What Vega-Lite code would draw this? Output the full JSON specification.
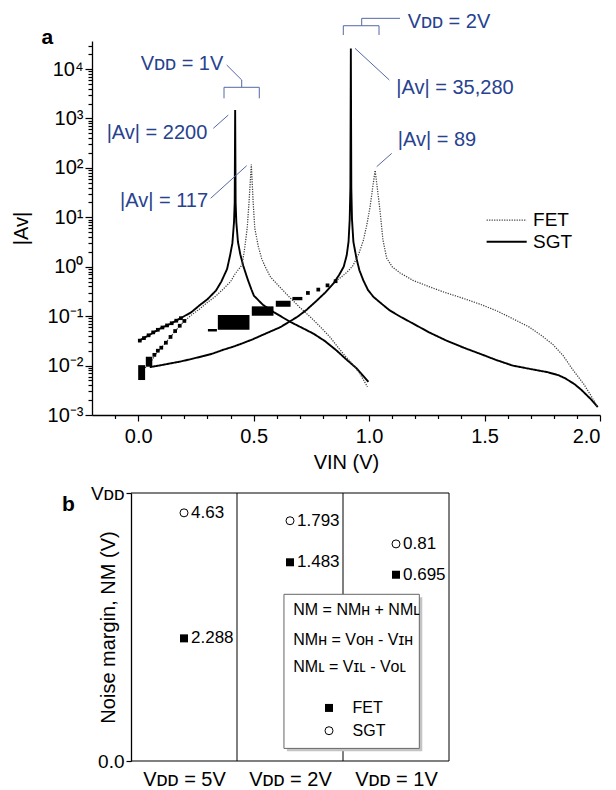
{
  "$schema": "https://vega.github.io/schema/vega-lite/v6.json",
  "padding": {"left": 11, "top": 12, "right": 2, "bottom": 0},
  "bounds": "flush",
  "spacing": 78,
  "config": {
    "view": {"stroke": null},
    "font": "Liberation Sans",
    "axis": {"labelFont": "Liberation Sans", "titleFont": "Liberation Sans", "labelColor": "#000", "titleColor": "#000", "domainColor": "#000", "tickColor": "#000", "grid": false, "titleFontWeight": "normal", "domainWidth": 1.3, "tickWidth": 1.2}
  },
  "datasets": {
    "curves": [
      {"c":"SGT1","t":"SGT","x":0.005,"y":0.032},{"c":"SGT1","t":"SGT","x":0.05,"y":0.042},{"c":"SGT1","t":"SGT","x":0.094,"y":0.056},{"c":"SGT1","t":"SGT","x":0.14,"y":0.07},{"c":"SGT1","t":"SGT","x":0.18,"y":0.089},{"c":"SGT1","t":"SGT","x":0.23,"y":0.12},{"c":"SGT1","t":"SGT","x":0.266,"y":0.166},{"c":"SGT1","t":"SGT","x":0.3,"y":0.22},{"c":"SGT1","t":"SGT","x":0.337,"y":0.33},{"c":"SGT1","t":"SGT","x":0.36,"y":0.5},{"c":"SGT1","t":"SGT","x":0.385,"y":0.9},{"c":"SGT1","t":"SGT","x":0.398,"y":1.7},{"c":"SGT1","t":"SGT","x":0.408,"y":3},{"c":"SGT1","t":"SGT","x":0.415,"y":8},{"c":"SGT1","t":"SGT","x":0.418,"y":20},{"c":"SGT1","t":"SGT","x":0.42,"y":1480},{"c":"SGT1","t":"SGT","x":0.422,"y":20},{"c":"SGT1","t":"SGT","x":0.425,"y":8},{"c":"SGT1","t":"SGT","x":0.432,"y":3.2},{"c":"SGT1","t":"SGT","x":0.442,"y":1.8},{"c":"SGT1","t":"SGT","x":0.455,"y":1.05},{"c":"SGT1","t":"SGT","x":0.474,"y":0.56},{"c":"SGT1","t":"SGT","x":0.49,"y":0.35},{"c":"SGT1","t":"SGT","x":0.501,"y":0.26},{"c":"SGT1","t":"SGT","x":0.54,"y":0.17},{"c":"SGT1","t":"SGT","x":0.588,"y":0.12},{"c":"SGT1","t":"SGT","x":0.66,"y":0.076},{"c":"SGT1","t":"SGT","x":0.71,"y":0.058},{"c":"SGT1","t":"SGT","x":0.76,"y":0.044},{"c":"SGT1","t":"SGT","x":0.81,"y":0.031},{"c":"SGT1","t":"SGT","x":0.86,"y":0.02},{"c":"SGT1","t":"SGT","x":0.9,"y":0.0135},{"c":"SGT1","t":"SGT","x":0.947,"y":0.0087},{"c":"SGT1","t":"SGT","x":0.997,"y":0.0047},
      {"c":"FET1","t":"FET","x":0.01,"y":0.0068},{"c":"FET1","t":"FET","x":0.03,"y":0.009},{"c":"FET1","t":"FET","x":0.055,"y":0.012},{"c":"FET1","t":"FET","x":0.08,"y":0.018},{"c":"FET1","t":"FET","x":0.11,"y":0.026},{"c":"FET1","t":"FET","x":0.144,"y":0.04},{"c":"FET1","t":"FET","x":0.17,"y":0.056},{"c":"FET1","t":"FET","x":0.194,"y":0.075},{"c":"FET1","t":"FET","x":0.23,"y":0.105},{"c":"FET1","t":"FET","x":0.266,"y":0.14},{"c":"FET1","t":"FET","x":0.3,"y":0.19},{"c":"FET1","t":"FET","x":0.338,"y":0.26},{"c":"FET1","t":"FET","x":0.37,"y":0.36},{"c":"FET1","t":"FET","x":0.4,"y":0.5},{"c":"FET1","t":"FET","x":0.42,"y":0.72},{"c":"FET1","t":"FET","x":0.45,"y":1.1},{"c":"FET1","t":"FET","x":0.462,"y":2.5},{"c":"FET1","t":"FET","x":0.472,"y":6},{"c":"FET1","t":"FET","x":0.48,"y":20},{"c":"FET1","t":"FET","x":0.49,"y":117},{"c":"FET1","t":"FET","x":0.498,"y":20},{"c":"FET1","t":"FET","x":0.505,"y":6},{"c":"FET1","t":"FET","x":0.52,"y":2.6},{"c":"FET1","t":"FET","x":0.535,"y":1.45},{"c":"FET1","t":"FET","x":0.55,"y":1.0},{"c":"FET1","t":"FET","x":0.573,"y":0.62},{"c":"FET1","t":"FET","x":0.62,"y":0.36},{"c":"FET1","t":"FET","x":0.66,"y":0.23},{"c":"FET1","t":"FET","x":0.7,"y":0.15},{"c":"FET1","t":"FET","x":0.746,"y":0.096},{"c":"FET1","t":"FET","x":0.79,"y":0.06},{"c":"FET1","t":"FET","x":0.83,"y":0.038},{"c":"FET1","t":"FET","x":0.87,"y":0.022},{"c":"FET1","t":"FET","x":0.9,"y":0.015},{"c":"FET1","t":"FET","x":0.93,"y":0.0105},{"c":"FET1","t":"FET","x":0.96,"y":0.0069},{"c":"FET1","t":"FET","x":0.993,"y":0.0037},
      {"c":"SGT2","t":"SGT","x":0.05,"y":0.0093},{"c":"SGT2","t":"SGT","x":0.1,"y":0.0102},{"c":"SGT2","t":"SGT","x":0.136,"y":0.011},{"c":"SGT2","t":"SGT","x":0.18,"y":0.012},{"c":"SGT2","t":"SGT","x":0.237,"y":0.0138},{"c":"SGT2","t":"SGT","x":0.28,"y":0.0155},{"c":"SGT2","t":"SGT","x":0.323,"y":0.0175},{"c":"SGT2","t":"SGT","x":0.37,"y":0.021},{"c":"SGT2","t":"SGT","x":0.41,"y":0.024},{"c":"SGT2","t":"SGT","x":0.45,"y":0.028},{"c":"SGT2","t":"SGT","x":0.496,"y":0.034},{"c":"SGT2","t":"SGT","x":0.55,"y":0.044},{"c":"SGT2","t":"SGT","x":0.616,"y":0.06},{"c":"SGT2","t":"SGT","x":0.65,"y":0.075},{"c":"SGT2","t":"SGT","x":0.688,"y":0.096},{"c":"SGT2","t":"SGT","x":0.73,"y":0.135},{"c":"SGT2","t":"SGT","x":0.775,"y":0.21},{"c":"SGT2","t":"SGT","x":0.81,"y":0.3},{"c":"SGT2","t":"SGT","x":0.846,"y":0.46},{"c":"SGT2","t":"SGT","x":0.87,"y":0.68},{"c":"SGT2","t":"SGT","x":0.89,"y":1.0},{"c":"SGT2","t":"SGT","x":0.903,"y":1.7},{"c":"SGT2","t":"SGT","x":0.911,"y":3.2},{"c":"SGT2","t":"SGT","x":0.916,"y":9},{"c":"SGT2","t":"SGT","x":0.919,"y":40},{"c":"SGT2","t":"SGT","x":0.921,"y":26000},{"c":"SGT2","t":"SGT","x":0.923,"y":40},{"c":"SGT2","t":"SGT","x":0.926,"y":9},{"c":"SGT2","t":"SGT","x":0.932,"y":3.2},{"c":"SGT2","t":"SGT","x":0.945,"y":1.5},{"c":"SGT2","t":"SGT","x":0.958,"y":0.85},{"c":"SGT2","t":"SGT","x":0.975,"y":0.53},{"c":"SGT2","t":"SGT","x":0.995,"y":0.34},{"c":"SGT2","t":"SGT","x":1.019,"y":0.245},{"c":"SGT2","t":"SGT","x":1.047,"y":0.19},{"c":"SGT2","t":"SGT","x":1.09,"y":0.13},{"c":"SGT2","t":"SGT","x":1.14,"y":0.095},{"c":"SGT2","t":"SGT","x":1.19,"y":0.071},{"c":"SGT2","t":"SGT","x":1.26,"y":0.047},{"c":"SGT2","t":"SGT","x":1.335,"y":0.032},{"c":"SGT2","t":"SGT","x":1.41,"y":0.023},{"c":"SGT2","t":"SGT","x":1.478,"y":0.0175},{"c":"SGT2","t":"SGT","x":1.55,"y":0.013},{"c":"SGT2","t":"SGT","x":1.622,"y":0.01},{"c":"SGT2","t":"SGT","x":1.7,"y":0.0085},{"c":"SGT2","t":"SGT","x":1.77,"y":0.0074},{"c":"SGT2","t":"SGT","x":1.82,"y":0.0064},{"c":"SGT2","t":"SGT","x":1.85,"y":0.0055},{"c":"SGT2","t":"SGT","x":1.89,"y":0.0042},{"c":"SGT2","t":"SGT","x":1.92,"y":0.0032},{"c":"SGT2","t":"SGT","x":1.96,"y":0.0021},{"c":"SGT2","t":"SGT","x":1.99,"y":0.00145},
      {"c":"FET2","t":"FET","x":0.855,"y":0.51},{"c":"FET2","t":"FET","x":0.88,"y":0.62},{"c":"FET2","t":"FET","x":0.905,"y":0.78},{"c":"FET2","t":"FET","x":0.93,"y":1.05},{"c":"FET2","t":"FET","x":0.955,"y":1.8},{"c":"FET2","t":"FET","x":0.975,"y":3.4},{"c":"FET2","t":"FET","x":0.99,"y":7},{"c":"FET2","t":"FET","x":1.004,"y":16},{"c":"FET2","t":"FET","x":1.015,"y":38},{"c":"FET2","t":"FET","x":1.026,"y":89},{"c":"FET2","t":"FET","x":1.036,"y":38},{"c":"FET2","t":"FET","x":1.047,"y":14},{"c":"FET2","t":"FET","x":1.06,"y":3.5},{"c":"FET2","t":"FET","x":1.076,"y":1.5},{"c":"FET2","t":"FET","x":1.1,"y":1.0},{"c":"FET2","t":"FET","x":1.134,"y":0.75},{"c":"FET2","t":"FET","x":1.19,"y":0.53},{"c":"FET2","t":"FET","x":1.263,"y":0.39},{"c":"FET2","t":"FET","x":1.33,"y":0.3},{"c":"FET2","t":"FET","x":1.407,"y":0.23},{"c":"FET2","t":"FET","x":1.48,"y":0.175},{"c":"FET2","t":"FET","x":1.55,"y":0.13},{"c":"FET2","t":"FET","x":1.62,"y":0.09},{"c":"FET2","t":"FET","x":1.694,"y":0.06},{"c":"FET2","t":"FET","x":1.745,"y":0.041},{"c":"FET2","t":"FET","x":1.795,"y":0.027},{"c":"FET2","t":"FET","x":1.84,"y":0.016},{"c":"FET2","t":"FET","x":1.88,"y":0.0085},{"c":"FET2","t":"FET","x":1.93,"y":0.0042},{"c":"FET2","t":"FET","x":1.96,"y":0.0025},{"c":"FET2","t":"FET","x":1.99,"y":0.00145},
      {"c":"legFET","t":"FET","x":1.509,"y":8.83},{"c":"legFET","t":"FET","x":1.6826,"y":8.83},
      {"c":"legSGT","t":"SGT","x":1.509,"y":3.21},{"c":"legSGT","t":"SGT","x":1.6826,"y":3.21}
    ],
    "beads": [
      {"x":0.007,"y":0.032},{"x":0.025,"y":0.036},{"x":0.045,"y":0.041},{"x":0.065,"y":0.047},{"x":0.085,"y":0.053},{"x":0.105,"y":0.059},{"x":0.125,"y":0.065},{"x":0.145,"y":0.072},{"x":0.165,"y":0.081},{"x":0.185,"y":0.091},
      {"x":0.07,"y":0.0165},{"x":0.085,"y":0.02},{"x":0.1,"y":0.023},{"x":0.12,"y":0.029},{"x":0.14,"y":0.038},{"x":0.16,"y":0.05},{"x":0.18,"y":0.064},{"x":0.2,"y":0.08},
      {"x":0.735,"y":0.295},{"x":0.78,"y":0.345},{"x":0.82,"y":0.42},{"x":0.855,"y":0.51}
    ],
    "blocks": [
      {"x":0.0,"x2":0.03,"y":0.0051,"y2":0.0102},
      {"x":0.033,"x2":0.061,"y":0.0095,"y2":0.0151},
      {"x":0.302,"x2":0.341,"y":0.049,"y2":0.055},
      {"x":0.345,"x2":0.482,"y":0.053,"y2":0.105},
      {"x":0.492,"x2":0.586,"y":0.102,"y2":0.158},
      {"x":0.596,"x2":0.66,"y":0.155,"y2":0.205},
      {"x":0.668,"x2":0.711,"y":0.21,"y2":0.245}
    ],
    "ann": [
      {"g":1,"o":1,"x":0.3834,"y":12080},{"g":1,"o":2,"x":0.4483,"y":6012},{"g":1,"o":3,"x":0.4483,"y":4276},
      {"g":2,"o":1,"x":0.3717,"y":2559},{"g":2,"o":2,"x":0.3717,"y":4276},{"g":2,"o":3,"x":0.5245,"y":4276},{"g":2,"o":4,"x":0.5245,"y":2559},
      {"g":3,"o":1,"x":0.3253,"y":632},{"g":3,"o":2,"x":0.3903,"y":1175},
      {"g":4,"o":1,"x":0.314,"y":24.3},{"g":4,"o":2,"x":0.47,"y":111},
      {"g":5,"o":1,"x":1.134,"y":106400},{"g":5,"o":2,"x":0.968,"y":106400},{"g":5,"o":3,"x":0.968,"y":75400},
      {"g":6,"o":1,"x":0.8883,"y":48900},{"g":6,"o":2,"x":0.8883,"y":75400},{"g":6,"o":3,"x":1.043,"y":75400},{"g":6,"o":4,"x":1.043,"y":48900},
      {"g":7,"o":1,"x":0.939,"y":26300},{"g":7,"o":2,"x":1.0876,"y":6012},
      {"g":8,"o":1,"x":1.098,"y":197},{"g":8,"o":2,"x":1.033,"y":106}
    ],
    "blue": [
      {"label":"Vᴅᴅ = 1V","x":0.1898,"y":12650},
      {"label":"|Av| = 2200","x":0.0815,"y":508},
      {"label":"|Av| = 117","x":0.1118,"y":21.4},
      {"label":"Vᴅᴅ = 2V","x":1.346,"y":89500},
      {"label":"|Av| = 35,280","x":1.372,"y":4140},
      {"label":"|Av| = 89","x":1.294,"y":367}
    ],
    "legA": [
      {"label":"FET","x":1.71,"y":8.83},
      {"label":"SGT","x":1.71,"y":3.21}
    ],
    "panelA": [{"label":"a","x":-0.393,"y":43500}],
    "frame": [
      {"x":0,"x2":3,"y":1,"y2":1},
      {"x":3,"x2":3,"y":0,"y2":1},
      {"x":0,"x2":3,"y":0,"y2":0},
      {"x":1,"x2":1,"y":0,"y2":1},
      {"x":2,"x2":2,"y":0,"y2":1}
    ],
    "nm": [
      {"vdd":"5V","t":"FET","x":0.5,"y":0.4576,"nm":"2.288"},
      {"vdd":"5V","t":"SGT","x":0.5,"y":0.926,"nm":"4.63"},
      {"vdd":"2V","t":"FET","x":1.5,"y":0.7415,"nm":"1.483"},
      {"vdd":"2V","t":"SGT","x":1.5,"y":0.8965,"nm":"1.793"},
      {"vdd":"1V","t":"FET","x":2.5,"y":0.695,"nm":"0.695"},
      {"vdd":"1V","t":"SGT","x":2.5,"y":0.81,"nm":"0.81"}
    ],
    "box": [{"x":1.443,"x2":2.72,"y":0.047,"y2":0.622}],
    "shadow": [{"x":1.471,"x2":2.748,"y":0.036,"y2":0.611}],
    "boxText": [
      {"label":"NM = NMʜ + NMʟ","x":1.531,"y":0.563},
      {"label":"NMʜ = Vᴏʜ - Vɪʜ","x":1.531,"y":0.451},
      {"label":"NMʟ = Vɪʟ - Vᴏʟ","x":1.531,"y":0.351},
      {"label":"FET","x":2.09,"y":0.198},
      {"label":"SGT","x":2.09,"y":0.113}
    ],
    "boxSym": [
      {"t":"FET","x":1.868,"y":0.198},
      {"t":"SGT","x":1.868,"y":0.113}
    ],
    "panelB": [{"label":"b","x":-0.59,"y":0.955}]
  },
  "vconcat": [
    {
      "width": 508,
      "height": 374,
      "resolve": {"axis": {"x": "independent", "y": "independent"}},
      "layer": [
        {
          "data": {"name": "curves"},
          "mark": {"type": "line", "interpolate": "linear"},
          "encoding": {
            "x": {"field": "x", "type": "quantitative", "scale": {"domain": [-0.2, 2.0], "nice": false, "zero": false},
                  "axis": {"orient": "bottom", "values": [-0.1,0.1,0.2,0.3,0.4,0.6,0.7,0.8,0.9,1.1,1.2,1.3,1.4,1.6,1.7,1.8,1.9], "labels": false, "tickSize": 3.5, "domain": true, "title": null}},
            "y": {"field": "y", "type": "quantitative", "scale": {"type": "log", "domain": [0.001, 37000], "nice": false},
                  "axis": {"orient": "left", "values": [0.002,0.003,0.004,0.005,0.006,0.007,0.008,0.009,0.02,0.03,0.04,0.05,0.06,0.07,0.08,0.09,0.2,0.3,0.4,0.5,0.6,0.7,0.8,0.9,2,3,4,5,6,7,8,9,20,30,40,50,60,70,80,90,200,300,400,500,600,700,800,900,2000,3000,4000,5000,6000,7000,8000,9000,20000,30000], "labels": false, "tickSize": 4, "domain": true, "title": null}},
            "detail": {"field": "c"},
            "color": {"field": "t", "type": "nominal", "scale": {"domain": ["FET", "SGT"], "range": ["#3c3c3c", "#000000"]}, "legend": null},
            "strokeDash": {"field": "t", "type": "nominal", "scale": {"domain": ["FET", "SGT"], "range": [[1.2, 1.3], [1, 0]]}, "legend": null},
            "strokeWidth": {"field": "t", "type": "nominal", "scale": {"domain": ["FET", "SGT"], "range": [1.25, 1.9]}, "legend": null}
          }
        },
        {
          "data": {"name": "blocks"},
          "mark": {"type": "rect", "color": "#000"},
          "encoding": {
            "x": {"field": "x", "type": "quantitative", "scale": {"domain": [-0.2, 2.0], "nice": false, "zero": false},
                  "axis": {"orient": "bottom", "values": [0, 0.5, 1, 1.5, 2], "format": ".1f", "tickSize": 6, "domain": false, "labelFontSize": 20, "labelPadding": 5, "title": "VIN (V)", "titleFontSize": 20, "titleY": 53, "titleBaseline": "alphabetic"}},
            "x2": {"field": "x2"},
            "y": {"field": "y", "type": "quantitative", "scale": {"type": "log", "domain": [0.001, 37000], "nice": false},
                  "axis": {"orient": "left", "values": [0.001, 0.01, 0.1, 1, 10, 100, 1000, 10000], "labelExpr": "'10' + ['⁻³','⁻²','⁻¹','⁰','¹','²','³','⁴'][round(log(datum.value)/LN10)+3]", "tickSize": 7, "labelPadding": 2, "domain": false, "labelFontSize": 20, "title": "|Av|", "titleFontSize": 20, "titleX": -71, "titleY": 187, "titleAngle": -90, "titleAlign": "center", "titleBaseline": "middle"}},
            "y2": {"field": "y2"}
          }
        },
        {
          "data": {"name": "beads"},
          "mark": {"type": "point", "shape": "square", "filled": true, "color": "#000", "size": 14, "opacity": 1},
          "encoding": {
            "x": {"field": "x", "type": "quantitative", "scale": {"domain": [-0.2, 2.0], "nice": false, "zero": false}, "axis": null},
            "y": {"field": "y", "type": "quantitative", "scale": {"type": "log", "domain": [0.001, 37000], "nice": false}, "axis": null}
          }
        },
        {
          "data": {"name": "ann"},
          "mark": {"type": "line", "color": "#5468a6", "strokeWidth": 1},
          "encoding": {
            "x": {"field": "x", "type": "quantitative", "scale": {"domain": [-0.2, 2.0], "nice": false, "zero": false}, "axis": null},
            "y": {"field": "y", "type": "quantitative", "scale": {"type": "log", "domain": [0.001, 37000], "nice": false}, "axis": null},
            "detail": {"field": "g"},
            "order": {"field": "o"}
          }
        },
        {
          "data": {"name": "blue"},
          "mark": {"type": "text", "color": "#27428f", "fontSize": 20, "align": "center", "baseline": "middle"},
          "encoding": {
            "x": {"field": "x", "type": "quantitative", "scale": {"domain": [-0.2, 2.0], "nice": false, "zero": false}, "axis": null},
            "y": {"field": "y", "type": "quantitative", "scale": {"type": "log", "domain": [0.001, 37000], "nice": false}, "axis": null},
            "text": {"field": "label"}
          }
        },
        {
          "data": {"name": "legA"},
          "mark": {"type": "text", "color": "#000", "fontSize": 19, "align": "left", "baseline": "middle"},
          "encoding": {
            "x": {"field": "x", "type": "quantitative", "scale": {"domain": [-0.2, 2.0], "nice": false, "zero": false}, "axis": null},
            "y": {"field": "y", "type": "quantitative", "scale": {"type": "log", "domain": [0.001, 37000], "nice": false}, "axis": null},
            "text": {"field": "label"}
          }
        },
        {
          "data": {"name": "panelA"},
          "mark": {"type": "text", "color": "#000", "fontSize": 21, "fontWeight": "bold", "align": "center", "baseline": "middle"},
          "encoding": {
            "x": {"field": "x", "type": "quantitative", "scale": {"domain": [-0.2, 2.0], "nice": false, "zero": false}, "axis": null},
            "y": {"field": "y", "type": "quantitative", "scale": {"type": "log", "domain": [0.001, 37000], "nice": false}, "axis": null},
            "text": {"field": "label"}
          }
        }
      ]
    },
    {
      "width": 357,
      "height": 268,
      "layer": [
        {
          "data": {"name": "frame"},
          "mark": {"type": "rule", "color": "#000", "strokeWidth": 1},
          "encoding": {
            "x": {"field": "x", "type": "quantitative", "scale": {"domain": [-0.368, 3], "nice": false, "zero": false},
                  "axis": {"values": [0.5, 1.5, 2.5], "labelExpr": "datum.value < 1 ? 'Vᴅᴅ = 5V' : (datum.value < 2 ? 'Vᴅᴅ = 2V' : 'Vᴅᴅ = 1V')", "ticks": false, "tickSize": 0, "domain": false, "labelFontSize": 20, "labelPadding": 8, "title": null}},
            "x2": {"field": "x2"},
            "y": {"field": "y", "type": "quantitative", "scale": {"domain": [0, 1], "nice": false},
                  "axis": {"values": [0, 1], "labelExpr": "datum.value == 1 ? 'Vᴅᴅ' : '0.0'", "offset": -39, "tickSize": 5, "labelPadding": 2, "labelFontSize": 19, "domain": true, "title": "Noise margin, NM (V)", "titleFontSize": 20, "titleX": -23, "titleY": 134, "titleAngle": -90, "titleAlign": "center", "titleBaseline": "middle"}},
            "y2": {"field": "y2"}
          }
        },
        {
          "data": {"name": "shadow"},
          "mark": {"type": "rect", "color": "#c4c4c4"},
          "encoding": {
            "x": {"field": "x", "type": "quantitative", "scale": {"domain": [-0.368, 3], "nice": false, "zero": false}},
            "x2": {"field": "x2"},
            "y": {"field": "y", "type": "quantitative", "scale": {"domain": [0, 1], "nice": false}},
            "y2": {"field": "y2"}
          }
        },
        {
          "data": {"name": "box"},
          "mark": {"type": "rect", "fill": "#ffffff", "stroke": "#666666", "strokeWidth": 1},
          "encoding": {
            "x": {"field": "x", "type": "quantitative", "scale": {"domain": [-0.368, 3], "nice": false, "zero": false}},
            "x2": {"field": "x2"},
            "y": {"field": "y", "type": "quantitative", "scale": {"domain": [0, 1], "nice": false}},
            "y2": {"field": "y2"}
          }
        },
        {
          "data": {"name": "nm"},
          "transform": [{"filter": "datum.t == 'FET'"}],
          "mark": {"type": "point", "shape": "square", "filled": true, "color": "#000", "size": 64, "opacity": 1},
          "encoding": {
            "x": {"field": "x", "type": "quantitative", "scale": {"domain": [-0.368, 3], "nice": false, "zero": false}},
            "y": {"field": "y", "type": "quantitative", "scale": {"domain": [0, 1], "nice": false}}
          }
        },
        {
          "data": {"name": "nm"},
          "transform": [{"filter": "datum.t == 'SGT'"}],
          "mark": {"type": "point", "shape": "circle", "filled": false, "stroke": "#000", "fill": "#fff", "strokeWidth": 1, "size": 64, "opacity": 1},
          "encoding": {
            "x": {"field": "x", "type": "quantitative", "scale": {"domain": [-0.368, 3], "nice": false, "zero": false}},
            "y": {"field": "y", "type": "quantitative", "scale": {"domain": [0, 1], "nice": false}}
          }
        },
        {
          "data": {"name": "nm"},
          "mark": {"type": "text", "color": "#000", "fontSize": 17, "align": "left", "baseline": "middle", "dx": 7},
          "encoding": {
            "x": {"field": "x", "type": "quantitative", "scale": {"domain": [-0.368, 3], "nice": false, "zero": false}},
            "y": {"field": "y", "type": "quantitative", "scale": {"domain": [0, 1], "nice": false}},
            "text": {"field": "nm", "type": "nominal"}
          }
        },
        {
          "data": {"name": "boxText"},
          "mark": {"type": "text", "color": "#000", "fontSize": 16, "align": "left", "baseline": "middle"},
          "encoding": {
            "x": {"field": "x", "type": "quantitative", "scale": {"domain": [-0.368, 3], "nice": false, "zero": false}},
            "y": {"field": "y", "type": "quantitative", "scale": {"domain": [0, 1], "nice": false}},
            "text": {"field": "label"}
          }
        },
        {
          "data": {"name": "boxSym"},
          "transform": [{"filter": "datum.t == 'FET'"}],
          "mark": {"type": "point", "shape": "square", "filled": true, "color": "#000", "size": 64, "opacity": 1},
          "encoding": {
            "x": {"field": "x", "type": "quantitative", "scale": {"domain": [-0.368, 3], "nice": false, "zero": false}},
            "y": {"field": "y", "type": "quantitative", "scale": {"domain": [0, 1], "nice": false}}
          }
        },
        {
          "data": {"name": "boxSym"},
          "transform": [{"filter": "datum.t == 'SGT'"}],
          "mark": {"type": "point", "shape": "circle", "filled": false, "stroke": "#000", "fill": "#fff", "strokeWidth": 1, "size": 64, "opacity": 1},
          "encoding": {
            "x": {"field": "x", "type": "quantitative", "scale": {"domain": [-0.368, 3], "nice": false, "zero": false}},
            "y": {"field": "y", "type": "quantitative", "scale": {"domain": [0, 1], "nice": false}}
          }
        },
        {
          "data": {"name": "panelB"},
          "mark": {"type": "text", "color": "#000", "fontSize": 21, "fontWeight": "bold", "align": "center", "baseline": "middle"},
          "encoding": {
            "x": {"field": "x", "type": "quantitative", "scale": {"domain": [-0.368, 3], "nice": false, "zero": false}},
            "y": {"field": "y", "type": "quantitative", "scale": {"domain": [0, 1], "nice": false}},
            "text": {"field": "label"}
          }
        }
      ]
    }
  ]
}
